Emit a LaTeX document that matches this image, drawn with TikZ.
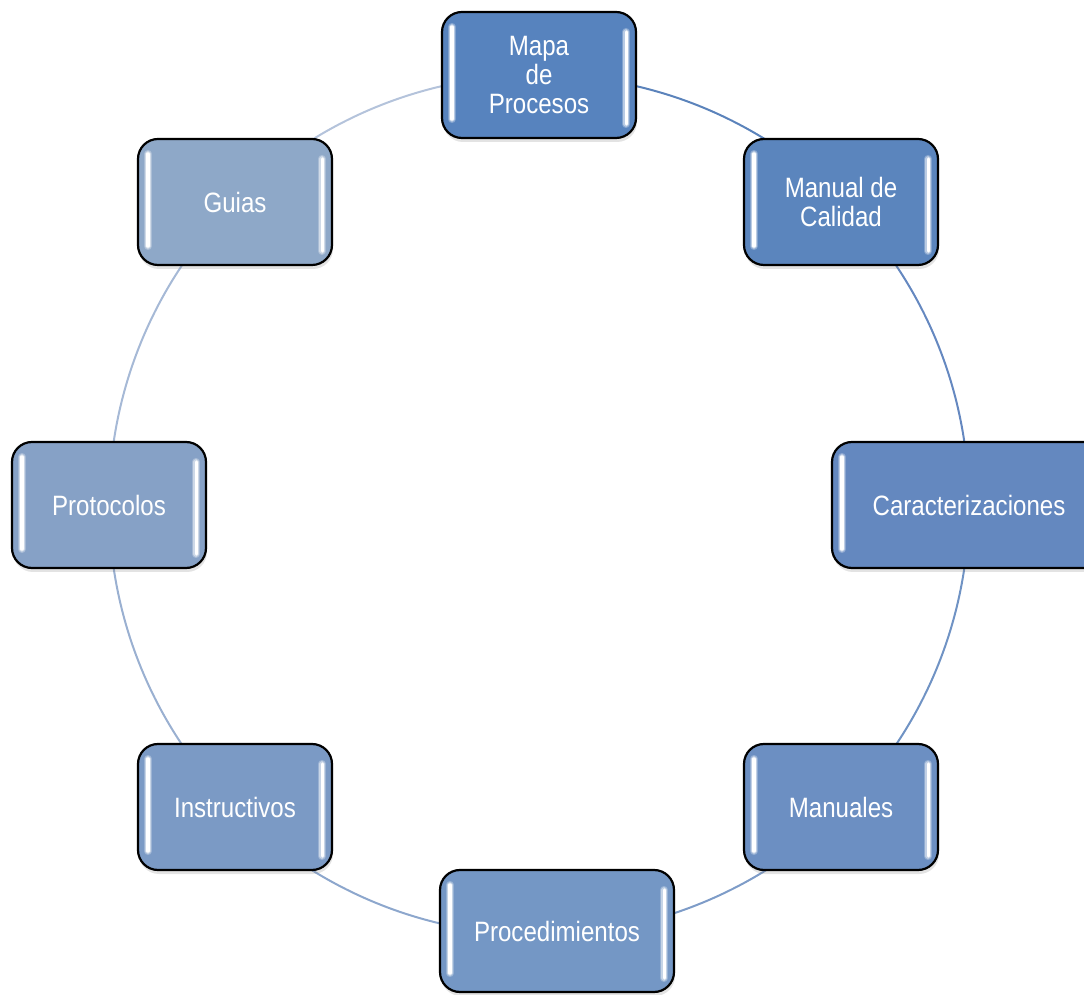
\documentclass[tikz,border=0pt]{standalone}
\usepackage{fontspec}
\setmainfont{Liberation Sans}[FakeStretch=0.86]
\usetikzlibrary{calc,shadows,backgrounds}
\definecolor{cA}{HTML}{5783BE}
\definecolor{cB}{HTML}{5B85BD}
\definecolor{cC}{HTML}{6488BF}
\definecolor{cD}{HTML}{6C8FC2}
\definecolor{cE}{HTML}{7497C5}
\definecolor{cF}{HTML}{7B9AC5}
\definecolor{cG}{HTML}{86A1C6}
\definecolor{cH}{HTML}{8EA8C8}
\definecolor{lA}{HTML}{5B83BB}
\definecolor{lB}{HTML}{6588C0}
\definecolor{lC}{HTML}{7093C4}
\definecolor{lD}{HTML}{7E9CC8}
\definecolor{lE}{HTML}{8DA7CD}
\definecolor{lF}{HTML}{9AB0D1}
\definecolor{lG}{HTML}{A6B9D6}
\definecolor{lH}{HTML}{B4C3DB}
\tikzset{
  box/.style={draw=black, line width=2.2pt, rounded corners=20pt,
    minimum width=194pt, minimum height=126pt, text=white, align=center,
    font=\fontsize{28}{29}\selectfont,
    drop shadow={opacity=0.22, shadow xshift=1pt, shadow yshift=-4pt}},
  ring/.style={line width=2pt},
  glow/.style={white, opacity=0.25, line width=8pt, line cap=round},
  glowb/.style={white, opacity=0.45, line width=5.5pt, line cap=round},
  shine/.style={white, line width=3.2pt, line cap=round}
}
\newcommand{\shinebar}[2]{%
  \draw[glow] #1 -- #2; \draw[glowb] #1 -- #2; \draw[shine] #1 -- #2;}
\newcommand{\hlleft}[1]{%
  \shinebar{($(#1.north west)+(11,-16)$)}{($(#1.south west)+(11,20)$)}}
\newcommand{\hlright}[1]{%
  \shinebar{($(#1.north east)+(-11,-21)$)}{($(#1.south east)+(-11,15)$)}}
\begin{document}
\begin{tikzpicture}[x=1pt,y=1pt]
\clip (0,0) rectangle (1084,994);
\useasboundingbox (0,0) rectangle (1084,994);
\coordinate (ctr) at (539,489);
\node[box, fill=cA] (mapa) at (539,919) {Mapa\\de\\Procesos};
\node[box, fill=cB] (calidad) at (841,792) {Manual de\\Calidad};
\node[box, fill=cC, minimum width=274pt] (caract) at (969,489) {Caracterizaciones};
\node[box, fill=cD] (manuales) at (841,187) {Manuales};
\node[box, fill=cE, minimum width=234pt, minimum height=122pt] (proced) at (557,63) {Procedimientos};
\node[box, fill=cF] (instr) at (235,187) {Instructivos};
\node[box, fill=cG] (protoc) at (109,489) {Protocolos};
\node[box, fill=cH] (guias) at (235,792) {Guias};
\foreach \n in {mapa,calidad,caract,manuales,proced,instr,protoc,guias}{\hlleft{\n}}
\foreach \n in {mapa,calidad,manuales,proced,instr,protoc,guias}{\hlright{\n}}
\begin{scope}[on background layer]
\draw[ring, lA] (ctr) ++(90:430) arc[start angle=90, end angle=45, radius=430];
\draw[ring, lB] (ctr) ++(45:430) arc[start angle=45, end angle=0, radius=430];
\draw[ring, lC] (ctr) ++(0:430) arc[start angle=0, end angle=-45, radius=430];
\draw[ring, lD] (ctr) ++(-45:430) arc[start angle=-45, end angle=-90, radius=430];
\draw[ring, lE] (ctr) ++(-90:430) arc[start angle=-90, end angle=-135, radius=430];
\draw[ring, lF] (ctr) ++(-135:430) arc[start angle=-135, end angle=-180, radius=430];
\draw[ring, lG] (ctr) ++(180:430) arc[start angle=180, end angle=135, radius=430];
\draw[ring, lH] (ctr) ++(135:430) arc[start angle=135, end angle=90, radius=430];
\end{scope}
\end{tikzpicture}
\end{document}
